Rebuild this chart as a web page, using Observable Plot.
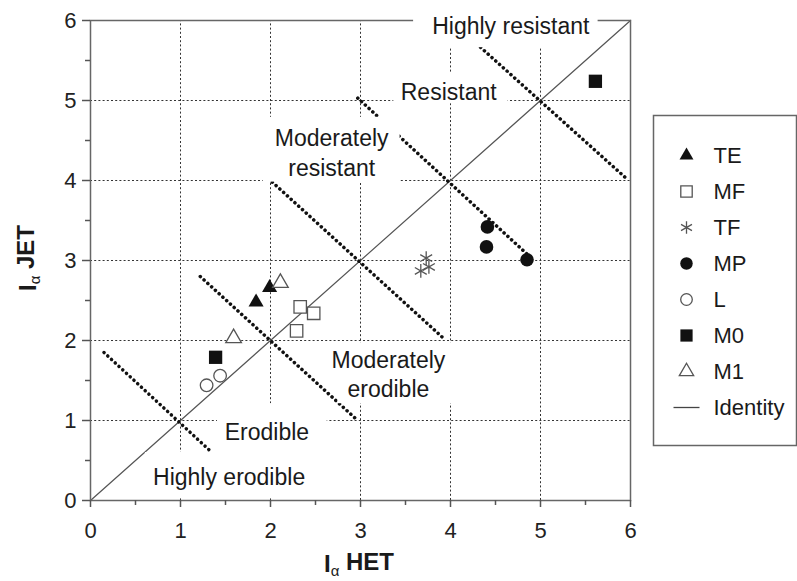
<!DOCTYPE html>
<html>
<head>
<meta charset="utf-8">
<script src="https://cdn.jsdelivr.net/npm/d3@7"></script>
<script src="https://cdn.jsdelivr.net/npm/@observablehq/plot@0.6"></script>
<style>
  html, body { margin: 0; padding: 0; background: white; }
  #wrap { position: relative; width: 797px; height: 581px; font-family: "Liberation Sans", Arial, sans-serif; }
  #legend { position: absolute; left: 652px; top: 114px; }
</style>
</head>
<body>
<div id="wrap">
  <div id="chart"></div>
  <div id="legend"></div>
</div>
<script>
// ---- Data ----
const teX = [1.84, 1.99];
const teY = [2.48, 2.66];
const mfX = [2.33, 2.48, 2.29];
const mfY = [2.42, 2.34, 2.12];
const tfX = [3.73, 3.76, 3.67];
const tfY = [3.03, 2.92, 2.87];
const mpX = [4.41, 4.40, 4.85];
const mpY = [3.42, 3.17, 3.01];
const lX = [1.44, 1.29];
const lY = [1.56, 1.44];
const m0X = [1.39, 5.61];
const m0Y = [1.79, 5.24];
const m1X = [2.11, 1.59];
const m1Y = [2.72, 2.03];

const seriesNames = ["TE", "MF", "TF", "MP", "L", "M0", "M1"];
const legendNames = ["TE", "MF", "TF", "MP", "L", "M0", "M1", "Identity"];

// identity line
const identityX = [0, 6];
const identityY = [0, 6];

// class boundary dotted lines (start / end points)
const boundX1 = [0.15, 1.22, 2.02, 2.97, 4.25];
const boundY1 = [1.85, 2.80, 3.98, 5.03, 5.75];
const boundX2 = [1.33, 2.95, 3.94, 4.88, 5.95];
const boundY2 = [0.62, 1.02, 2.01, 3.05, 4.03];

// axis ticks
const majorTicks = [0, 1, 2, 3, 4, 5, 6];
const minorTicks = [0.5, 1.5, 2.5, 3.5, 4.5, 5.5];
const gridValues = [1, 2, 3, 4, 5];

// class labels
const labelText = ["Highly resistant", "Resistant", "Moderately\nresistant", "Moderately\nerodible", "Erodible", "Highly erodible"];
const labelX = [4.67, 3.98, 2.68, 3.31, 1.96, 1.54];
const labelY = [5.95, 5.12, 4.36, 1.59, 0.88, 0.31];
const boxX1 = [3.59, 3.37, 1.92, 2.75, 1.41, 0.61];
const boxX2 = [5.64, 4.64, 3.44, 4.06, 2.63, 2.47];
const boxY1 = [5.66, 4.96, 3.98, 1.21, 0.60, 0.02];
const boxY2 = [6.12, 5.34, 4.79, 1.97, 1.21, 0.60];

// ---- Build tables ----
const seriesStyle = {
  TE: {xs: teX, ys: teY, symbol: "triangle", fill: "#111", stroke: "none", r: 5.6},
  MF: {xs: mfX, ys: mfY, symbol: "square", fill: "white", stroke: "#555", r: 7.0},
  TF: {xs: tfX, ys: tfY, symbol: "asterisk", fill: "none", stroke: "#555", r: 6.5},
  MP: {xs: mpX, ys: mpY, symbol: "circle", fill: "#111", stroke: "none", r: 6.8},
  L:  {xs: lX, ys: lY, symbol: "circle", fill: "white", stroke: "#555", r: 6.3},
  M0: {xs: m0X, ys: m0Y, symbol: "square", fill: "#111", stroke: "none", r: 7.5},
  M1: {xs: m1X, ys: m1Y, symbol: "triangle", fill: "white", stroke: "#555", r: 5.8}
};

const bounds = boundX1.map((x, i) => ({x1: x, y1: boundY1[i], x2: boundX2[i], y2: boundY2[i]}));
const labels = labelText.map((t, i) => ({t, x: labelX[i], y: labelY[i]}));
const boxes = labelText.map((t, i) => ({x1: boxX1[i], x2: boxX2[i], y1: boxY1[i], y2: boxY2[i]}));
const identity = identityX.map((x, i) => ({x, y: identityY[i]}));

const FONT = '"Liberation Sans", Arial, sans-serif';
const intFormat = d => String(d);

const pointMarks = seriesNames.map(name => {
  const s = seriesStyle[name];
  const rows = s.xs.map((x, i) => ({x, y: s.ys[i]}));
  return Plot.dot(rows, {x: "x", y: "y", symbol: s.symbol, fill: s.fill, stroke: s.stroke, strokeWidth: 1.3, r: s.r});
});

const chart = Plot.plot({
  width: 797,
  height: 581,
  marginLeft: 90,
  marginRight: 167,
  marginTop: 20,
  marginBottom: 81,
  x: {domain: [0, 6]},
  y: {domain: [0, 6]},
  style: {fontFamily: FONT, fontSize: "22px", color: "#222", background: "white", overflow: "visible"},
  marks: [
    Plot.ruleX(gridValues, {x: d => d, y1: 0, y2: 6, stroke: "#333", strokeWidth: 1, strokeDasharray: "2,2.2"}),
    Plot.ruleY(gridValues, {y: d => d, x1: 0, x2: 6, stroke: "#333", strokeWidth: 1, strokeDasharray: "2,2.2"}),
    Plot.line(identity, {x: "x", y: "y", stroke: "#555", strokeWidth: 1.2}),
    Plot.link(bounds, {x1: "x1", y1: "y1", x2: "x2", y2: "y2", stroke: "#111", strokeWidth: 3.5, strokeDasharray: "0.1,5", strokeLinecap: "round"}),
    Plot.frame({stroke: "#666", strokeWidth: 1.5}),
    Plot.rect(boxes, {x1: "x1", x2: "x2", y1: "y1", y2: "y2", fill: "white"}),
    Plot.text(labels, {x: "x", y: "y", text: "t", fontSize: 23, fill: "#1a1a1a", lineHeight: 1.28, textAnchor: "middle"}),
    Plot.axisX(majorTicks, {tickSize: 7, tickPadding: 15, fontSize: 22, tickFormat: intFormat, stroke: "#555", strokeWidth: 1.5, label: null}),
    Plot.axisX(minorTicks, {tickSize: 5, tickFormat: () => "", stroke: "#555", strokeWidth: 1.5, label: null}),
    Plot.axisY(majorTicks, {tickSize: 8, tickPadding: 6, fontSize: 22, tickFormat: intFormat, stroke: "#555", strokeWidth: 1.5, label: null}),
    Plot.axisY(minorTicks, {tickSize: 5, tickFormat: () => "", stroke: "#555", strokeWidth: 1.5, label: null}),
    ...pointMarks
  ]
});
document.getElementById("chart").appendChild(chart);

// axis titles with subscript alpha
const svg = d3.select(chart);
const yt = svg.append("text")
  .attr("transform", "translate(36,258) rotate(-90)")
  .attr("text-anchor", "middle")
  .attr("fill", "#1a1a1a")
  .style("font-family", FONT)
  .style("font-size", "24px")
  .style("font-weight", "bold");
yt.append("tspan").text("I");
yt.append("tspan").attr("dy", "0.25em").style("font-size", "15px").style("font-weight", "normal").text("α");
yt.append("tspan").attr("dy", "-0.25em").text(" JET");

const xt = svg.append("text")
  .attr("transform", "translate(359,572)")
  .attr("text-anchor", "middle")
  .attr("fill", "#1a1a1a")
  .style("font-family", FONT)
  .style("font-size", "24px")
  .style("font-weight", "bold");
xt.append("tspan").text("I");
xt.append("tspan").attr("dy", "0.25em").style("font-size", "15px").style("font-weight", "normal").text("α");
xt.append("tspan").attr("dy", "-0.25em").text(" HET");

// ---- Legend ----
const legendMarks = seriesNames.map(name => {
  const s = seriesStyle[name];
  return Plot.dot([name], {x: 34, y: d => d, symbol: s.symbol, fill: s.fill, stroke: s.stroke, strokeWidth: 1.3, r: s.r * 0.92});
});
const legend = Plot.plot({
  width: 145,
  height: 332,
  margin: 0,
  x: {domain: [0, 145], axis: null},
  y: {type: "point", domain: legendNames, range: [23, 311], axis: null},
  style: {fontFamily: FONT, fontSize: "22px", color: "#222", background: "white", overflow: "visible"},
  marks: [
    Plot.frame({stroke: "#666", strokeWidth: 1.5, inset: 1}),
    ...legendMarks,
    Plot.link(["Identity"], {x1: 21, x2: 47, y1: d => d, y2: d => d, stroke: "#444", strokeWidth: 1.3}),
    Plot.text(legendNames, {x: 61, y: d => d, text: d => d, textAnchor: "start", fontSize: 22, fill: "#1a1a1a"})
  ]
});
document.getElementById("legend").appendChild(legend);
</script>
</body>
</html>
